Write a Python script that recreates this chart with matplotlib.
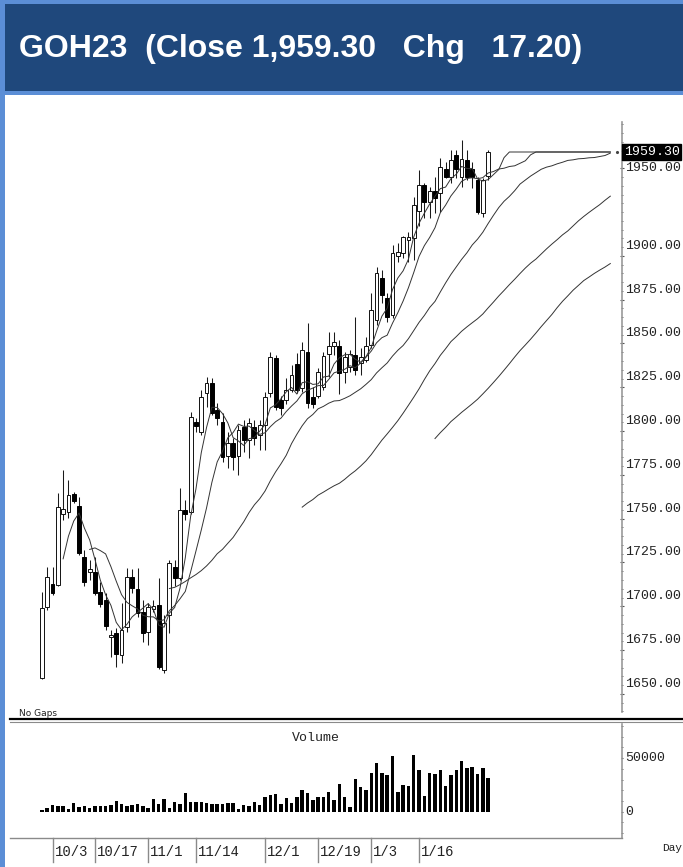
import numpy as np
import pandas as pd
import matplotlib
matplotlib.use("Agg")
import matplotlib.pyplot as plt
import matplotlib.transforms as mtransforms
from matplotlib import font_manager
from matplotlib.patches import Rectangle
from matplotlib.lines import Line2D

W, H = 683, 867

# daily OHLC
opens = [1659.1, 1699.6, 1712.7, 1712.1, 1752.7, 1753.8, 1764.1, 1757.2, 1728.1, 1719.6,
         1719.6, 1708.1, 1703.6, 1682.5, 1684.7, 1672.2, 1688.2, 1716.7, 1709.9, 1696.7,
         1685.3, 1698.4, 1700.7, 1663.6, 1695.0, 1722.4, 1716.1, 1755.0, 1753.8, 1805.2,
         1799.5, 1821.7, 1827.4, 1812.0, 1805.2, 1785.8, 1793.2, 1785.8, 1802.3, 1794.9,
         1802.3, 1797.8, 1803.5, 1821.7, 1841.7, 1817.7, 1817.7, 1823.4, 1838.3, 1824.6,
         1845.1, 1819.5, 1820.0, 1825.2, 1844.0, 1848.6, 1848.6, 1833.7, 1836.6, 1843.4,
         1838.9, 1840.6, 1849.1, 1863.4, 1887.4, 1876.0, 1866.3, 1899.9, 1901.6, 1909.1,
         1910.2, 1925.6, 1940.5, 1930.8, 1937.0, 1935.9, 1949.6, 1945.0, 1957.6, 1945.0,
         1954.7, 1949.6, 1943.3, 1924.5, 1945.6]
highs = [1708.1, 1722.4, 1722.4, 1764.7, 1777.8, 1772.1, 1765.2, 1762.4, 1732.1, 1726.4,
         1728.1, 1713.9, 1707.6, 1686.5, 1687.6, 1701.9, 1721.8, 1721.3, 1721.8, 1703.6,
         1701.9, 1703.6, 1716.1, 1695.0, 1726.4, 1726.4, 1767.5, 1760.7, 1810.9, 1807.5,
         1823.4, 1830.9, 1830.3, 1816.0, 1810.3, 1799.5, 1796.1, 1803.5, 1806.3, 1807.5,
         1806.3, 1806.3, 1822.3, 1845.1, 1843.4, 1820.0, 1830.3, 1837.7, 1844.6, 1850.8,
         1861.7, 1825.2, 1836.0, 1845.1, 1856.6, 1856.6, 1852.0, 1845.1, 1846.3, 1865.1,
         1847.4, 1853.7, 1878.8, 1893.7, 1891.9, 1878.8, 1906.2, 1907.4, 1911.4, 1913.6,
         1933.6, 1949.0, 1941.6, 1939.3, 1945.0, 1955.9, 1953.6, 1960.4, 1960.4, 1966.1,
         1960.4, 1953.6, 1945.0, 1944.5, 1960.4]
lows = [1658.5, 1697.9, 1706.4, 1711.6, 1749.2, 1750.4, 1758.9, 1729.3, 1711.6, 1715.0,
        1706.4, 1699.6, 1686.5, 1671.0, 1665.3, 1667.6, 1685.3, 1707.6, 1693.9, 1679.6,
        1677.9, 1696.7, 1664.2, 1661.9, 1684.7, 1711.6, 1715.0, 1749.2, 1752.7, 1799.5,
        1797.8, 1813.7, 1809.2, 1803.5, 1782.4, 1778.9, 1777.8, 1774.9, 1788.1, 1784.6,
        1792.1, 1789.2, 1789.2, 1819.5, 1812.0, 1809.2, 1815.5, 1822.3, 1821.7, 1822.3,
        1813.2, 1813.2, 1818.9, 1823.4, 1830.9, 1843.4, 1821.2, 1827.4, 1833.7, 1832.0,
        1832.0, 1839.4, 1847.4, 1860.6, 1873.1, 1862.3, 1864.5, 1896.5, 1898.8, 1896.5,
        1897.7, 1917.1, 1921.6, 1921.6, 1924.5, 1925.1, 1944.5, 1941.6, 1944.5, 1939.3,
        1943.3, 1938.8, 1923.9, 1922.2, 1943.3]
closes = [1699.0, 1716.7, 1707.6, 1756.7, 1755.5, 1763.5, 1760.1, 1730.4, 1713.9, 1721.3,
          1707.6, 1701.3, 1688.7, 1683.6, 1672.8, 1686.5, 1716.7, 1710.4, 1696.2, 1684.7,
          1699.6, 1700.2, 1665.3, 1690.5, 1724.7, 1716.1, 1755.0, 1752.7, 1808.0, 1802.9,
          1819.5, 1827.4, 1810.3, 1807.5, 1785.2, 1793.2, 1785.2, 1800.6, 1794.9, 1804.6,
          1796.1, 1803.5, 1819.5, 1842.3, 1813.7, 1813.2, 1823.4, 1832.0, 1823.4, 1846.3,
          1816.0, 1815.5, 1833.7, 1842.9, 1848.6, 1850.8, 1833.2, 1842.3, 1844.0, 1834.9,
          1842.3, 1848.6, 1869.1, 1890.2, 1877.7, 1865.1, 1901.6, 1902.2, 1910.8, 1910.8,
          1929.0, 1940.5, 1930.8, 1937.0, 1933.0, 1950.7, 1945.0, 1954.7, 1949.6, 1955.3,
          1945.0, 1945.0, 1925.1, 1943.3, 1959.3]
volume = [1900, 3100, 6200, 5600, 5300, 2500, 7800, 4300, 5300, 3700,
          5300, 5300, 5600, 6500, 10200, 6800, 5300, 6200, 6800, 5600,
          3100, 11800, 7100, 11500, 3700, 9300, 7500, 17100, 9300, 9300,
          8700, 8100, 7500, 7500, 7500, 8100, 8100, 2500, 6200, 5300,
          9300, 5900, 13400, 15200, 16100, 6800, 12400, 7800, 13400, 20200,
          17700, 10900, 14000, 14000, 18300, 10900, 25500, 14000, 4000, 30100,
          22700, 20200, 35700, 45000, 35700, 34500, 51900, 18300, 25200, 23600,
          52800, 38500, 14600, 35700, 35100, 38500, 24200, 34500, 39100, 47500,
          41000, 41600, 35100, 40400, 31100]

date_pos = [2, 10, 20, 29, 42, 52, 62, 71]
date_labels = ["10/3", "10/17", "11/1", "11/14", "12/1", "12/19", "1/3", "1/16"]

ma_periods = [5, 10, 25, 50, 75]
PROJ = 23  # bars the averages are carried forward at the last close

price_ticks = [1650, 1675, 1700, 1725, 1750, 1775, 1800, 1825, 1850, 1875, 1900, 1950]
vol_ticks = [0, 50000]

HEADER = "GOH23  (Close 1,959.30   Chg   17.20)"

DARK_BLUE = "#1f487c"
EDGE_BLUE = "#5b8ed6"
MONO = "Liberation Mono"
names = {f.name for f in font_manager.fontManager.ttflist}
HEAD_FONT = "Liberation Sans Narrow" if "Liberation Sans Narrow" in names else "Liberation Sans"
HEAD_SIZE = 24 if HEAD_FONT == "Liberation Sans Narrow" else 23


def fx(px):
    return px / W


def fy(py):
    return 1 - py / H


fig = plt.figure(figsize=(W / 100, H / 100), dpi=100)
fig.patch.set_facecolor("white")

# ── frame and header band ─────────────────────────────────────────────
fig.add_artist(Rectangle((0, 0), fx(5), 1, transform=fig.transFigure,
                         color=EDGE_BLUE, lw=0, zorder=0))
fig.add_artist(Rectangle((0, fy(95)), 1, fy(0) - fy(95), transform=fig.transFigure,
                         color=EDGE_BLUE, lw=0, zorder=0))
fig.add_artist(Rectangle((fx(5), fy(91)), 1, fy(4) - fy(91), transform=fig.transFigure,
                         color=DARK_BLUE, lw=0, zorder=1))
fig.text(fx(19), fy(49), HEADER, color="white", fontsize=HEAD_SIZE, fontweight="bold",
         family=HEAD_FONT, va="center", ha="left")

# ── price panel ───────────────────────────────────────────────────────
ax = fig.add_axes([fx(10), fy(712), fx(622) - fx(10), (712 - 122) / H])
px_per_unit = 1.752
ax.set_xlim(-6.0, 109.2)
ax.set_ylim(closes[-1] - (712 - 152) / px_per_unit, closes[-1] + (152 - 122) / px_per_unit)

x = np.arange(len(closes))
o, hi, lo, c = (np.array(v) for v in (opens, highs, lows, closes))
up = c >= o
ax.vlines(x, lo, hi, color="#1a1a1a", lw=0.75, zorder=2)
body_lo = np.minimum(o, c)
body_h = np.maximum(np.abs(c - o), 0.5)
ax.bar(x[up], body_h[up], bottom=body_lo[up], width=0.72, color="white",
       edgecolor="#111111", linewidth=0.7, zorder=3)
ax.bar(x[~up], body_h[~up], bottom=body_lo[~up], width=0.72, color="black",
       edgecolor="black", linewidth=0.7, zorder=3)

ext = pd.Series(closes + [closes[-1]] * PROJ)
for p in ma_periods:
    ma = ext.rolling(p).mean()
    ax.plot(ma.index, ma.values, color="#333333", lw=0.7, zorder=4)

for s in ("left", "top", "bottom"):
    ax.spines[s].set_visible(False)
ax.spines["right"].set_color("#9a9a9a")
ax.spines["right"].set_linewidth(1.2)
ax.set_xticks([])
ax.yaxis.tick_right()
ax.set_yticks(price_ticks)
ax.set_yticklabels([])
ax.set_yticks(np.arange(1640, 1976, 5), minor=True)
ax.tick_params(axis="y", which="major", length=3, direction="inout", color="#555")
ax.tick_params(axis="y", which="minor", length=2, direction="inout", color="#555")

yblend = mtransforms.blended_transform_factory(ax.transAxes, ax.transData)
up_shift = mtransforms.ScaledTranslation(0, 0.10, fig.dpi_scale_trans)
for t in price_ticks:
    tr = yblend if t == 1950 else yblend + up_shift
    ax.text(1.005, t, f"{t:.2f}", transform=tr, family=MONO, fontsize=9.5,
            color="#222", va="center", ha="left", clip_on=False)

ax.text(1.003, closes[-1], f"{closes[-1]:.2f}", transform=yblend, family=MONO,
        fontsize=9.5, color="white", va="center", ha="left", zorder=6,
        bbox=dict(boxstyle="square,pad=0.12", fc="black", ec="black"), clip_on=False)
ax.plot([0.992], [closes[-1]], marker=".", ms=2.5, color="#444", transform=yblend,
        clip_on=False)

fig.text(fx(19), fy(713), "No Gaps", fontsize=6.5, color="#222", va="center", ha="left")
fig.add_artist(Line2D([fx(10), 1], [fy(718.5), fy(718.5)], color="black", lw=1.6))
fig.add_artist(Line2D([fx(10), 1], [fy(722), fy(722)], color="#8a8a8a", lw=0.8))

# ── volume panel ──────────────────────────────────────────────────────
ax2 = fig.add_axes([fx(10), fy(838), fx(622) - fx(10), (838 - 724) / H])
ax2.set_xlim(ax.get_xlim())
vpx = 932.0  # volume units per pixel
ax2.set_ylim(-(838 - 811.7) * vpx, (811.7 - 724) * vpx)
ax2.bar(x, volume, width=0.65, color="black", lw=0)
for s in ("left", "top"):
    ax2.spines[s].set_visible(False)
ax2.spines["right"].set_color("#9a9a9a")
ax2.spines["right"].set_linewidth(1.2)
ax2.spines["bottom"].set_color("#8a8a8a")
ax2.spines["bottom"].set_linewidth(1.0)
ax2.yaxis.tick_right()
ax2.set_yticks(vol_ticks)
ax2.set_yticklabels([])
ax2.set_yticks(np.arange(-20000, 80001, 10000), minor=True)
ax2.tick_params(axis="y", which="both", length=2, direction="inout", color="#555")
ax2.set_xticks([])
vblend = mtransforms.blended_transform_factory(ax2.transAxes, ax2.transData)
for t in vol_ticks:
    ax2.text(1.005, t, f"{t}", transform=vblend, family=MONO, fontsize=9.5,
             color="#222", va="center", ha="left", clip_on=False)
ax2.text(0.5, 0.88, "Volume", transform=ax2.transAxes, family=MONO, fontsize=9.5,
         color="#222", ha="center", va="center")

# date ticks under the volume panel
xblend = mtransforms.blended_transform_factory(ax2.transData, ax2.transAxes)
lab_shift = mtransforms.ScaledTranslation(0.02, 0, fig.dpi_scale_trans)
for pos, lab in zip(date_pos, date_labels):
    ax2.plot([pos, pos], [0, -24 / 114], color="#8a8a8a", lw=1.0,
             transform=xblend, clip_on=False)
    ax2.text(pos, -14 / 114, lab, transform=xblend + lab_shift, family=MONO,
             fontsize=10, color="#222", ha="left", va="center", clip_on=False)
fig.text(fx(662), fy(848), "Day", family=MONO, fontsize=8, color="#222",
         ha="left", va="center")

fig.savefig("out.png", dpi=100)
